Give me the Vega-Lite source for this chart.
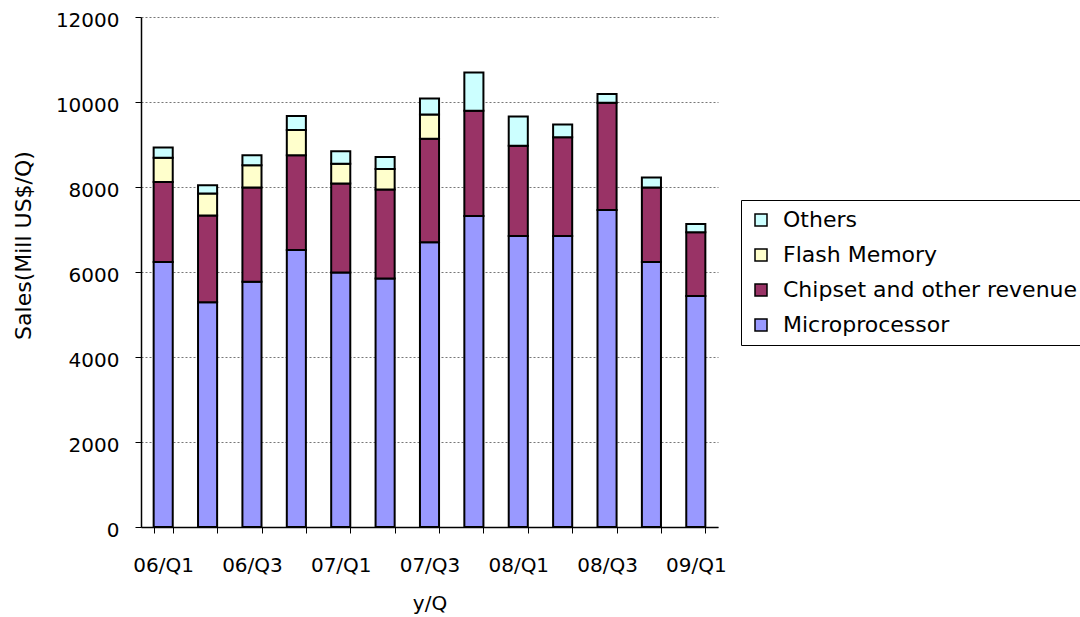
{
  "$schema": "https://vega.github.io/schema/vega-lite/v6.json",
  "width": 577,
  "height": 510,
  "autosize": {"type": "none"},
  "padding": {"left": 141, "top": 17, "right": 362, "bottom": 90},
  "background": "white",
  "config": {
    "font": "DejaVu Sans",
    "view": {"stroke": null},
    "axis": {"labelFont": "DejaVu Sans", "titleFont": "DejaVu Sans", "labelColor": "black", "titleColor": "black", "titleFontWeight": "normal"}
  },
  "data": {
    "values": [
      {"q": "06/Q1", "segment": "Microprocessor", "value": 6235, "o": 1},
      {"q": "06/Q1", "segment": "Chipset and other revenue", "value": 1883, "o": 2},
      {"q": "06/Q1", "segment": "Flash Memory", "value": 572, "o": 3},
      {"q": "06/Q1", "segment": "Others", "value": 242, "o": 4},
      {"q": "06/Q2", "segment": "Microprocessor", "value": 5290, "o": 1},
      {"q": "06/Q2", "segment": "Chipset and other revenue", "value": 2040, "o": 2},
      {"q": "06/Q2", "segment": "Flash Memory", "value": 520, "o": 3},
      {"q": "06/Q2", "segment": "Others", "value": 190, "o": 4},
      {"q": "06/Q3", "segment": "Microprocessor", "value": 5770, "o": 1},
      {"q": "06/Q3", "segment": "Chipset and other revenue", "value": 2220, "o": 2},
      {"q": "06/Q3", "segment": "Flash Memory", "value": 520, "o": 3},
      {"q": "06/Q3", "segment": "Others", "value": 235, "o": 4},
      {"q": "06/Q4", "segment": "Microprocessor", "value": 6520, "o": 1},
      {"q": "06/Q4", "segment": "Chipset and other revenue", "value": 2225, "o": 2},
      {"q": "06/Q4", "segment": "Flash Memory", "value": 595, "o": 3},
      {"q": "06/Q4", "segment": "Others", "value": 330, "o": 4},
      {"q": "07/Q1", "segment": "Microprocessor", "value": 5990, "o": 1},
      {"q": "07/Q1", "segment": "Chipset and other revenue", "value": 2090, "o": 2},
      {"q": "07/Q1", "segment": "Flash Memory", "value": 470, "o": 3},
      {"q": "07/Q1", "segment": "Others", "value": 290, "o": 4},
      {"q": "07/Q2", "segment": "Microprocessor", "value": 5845, "o": 1},
      {"q": "07/Q2", "segment": "Chipset and other revenue", "value": 2095, "o": 2},
      {"q": "07/Q2", "segment": "Flash Memory", "value": 485, "o": 3},
      {"q": "07/Q2", "segment": "Others", "value": 280, "o": 4},
      {"q": "07/Q3", "segment": "Microprocessor", "value": 6700, "o": 1},
      {"q": "07/Q3", "segment": "Chipset and other revenue", "value": 2436, "o": 2},
      {"q": "07/Q3", "segment": "Flash Memory", "value": 572, "o": 3},
      {"q": "07/Q3", "segment": "Others", "value": 377, "o": 4},
      {"q": "07/Q4", "segment": "Microprocessor", "value": 7320, "o": 1},
      {"q": "07/Q4", "segment": "Chipset and other revenue", "value": 2475, "o": 2},
      {"q": "07/Q4", "segment": "Others", "value": 900, "o": 4},
      {"q": "08/Q1", "segment": "Microprocessor", "value": 6845, "o": 1},
      {"q": "08/Q1", "segment": "Chipset and other revenue", "value": 2125, "o": 2},
      {"q": "08/Q1", "segment": "Others", "value": 690, "o": 4},
      {"q": "08/Q2", "segment": "Microprocessor", "value": 6850, "o": 1},
      {"q": "08/Q2", "segment": "Chipset and other revenue", "value": 2320, "o": 2},
      {"q": "08/Q2", "segment": "Others", "value": 300, "o": 4},
      {"q": "08/Q3", "segment": "Microprocessor", "value": 7460, "o": 1},
      {"q": "08/Q3", "segment": "Chipset and other revenue", "value": 2525, "o": 2},
      {"q": "08/Q3", "segment": "Others", "value": 205, "o": 4},
      {"q": "08/Q4", "segment": "Microprocessor", "value": 6235, "o": 1},
      {"q": "08/Q4", "segment": "Chipset and other revenue", "value": 1755, "o": 2},
      {"q": "08/Q4", "segment": "Others", "value": 235, "o": 4},
      {"q": "09/Q1", "segment": "Microprocessor", "value": 5435, "o": 1},
      {"q": "09/Q1", "segment": "Chipset and other revenue", "value": 1500, "o": 2},
      {"q": "09/Q1", "segment": "Others", "value": 195, "o": 4}
    ]
  },
  "mark": {"type": "bar", "stroke": "black", "strokeWidth": 2},
  "encoding": {
    "x": {
      "field": "q",
      "type": "nominal",
      "sort": null,
      "scale": {"paddingInner": 0.57, "paddingOuter": 0.285},
      "axis": {
        "title": "y/Q",
        "titleFontSize": 20,
        "titleY": 76,
        "titleBaseline": "middle",
        "labelAngle": 0,
        "labelFontSize": 20,
        "labelPadding": 22,
        "labelExpr": "isString(datum.value) && (indexof(datum.value, 'Q1') >= 0 || indexof(datum.value, 'Q3') >= 0) ? datum.value : ''",
        "tickBand": "extent",
        "tickSize": 6,
        "tickColor": "black",
        "domainColor": "black",
        "domainWidth": 1.5,
        "grid": false
      }
    },
    "y": {
      "field": "value",
      "type": "quantitative",
      "stack": "zero",
      "scale": {"domain": [0, 12000]},
      "axis": {
        "title": "Sales(Mill US$/Q)",
        "titleFontSize": 22,
        "titleAngle": -90,
        "titleX": -118,
        "titleY": 228,
        "titleAlign": "center",
        "titleBaseline": "middle",
        "values": [0, 2000, 4000, 6000, 8000, 10000, 12000],
        "format": "d",
        "labelFontSize": 20,
        "labelPadding": 16,
        "labelOffset": 3,
        "tickSize": 6,
        "tickColor": "black",
        "domainColor": "black",
        "domainWidth": 1.5,
        "grid": true,
        "gridColor": "#777777",
        "gridDash": [2, 2],
        "gridWidth": 1
      }
    },
    "color": {
      "field": "segment",
      "type": "nominal",
      "scale": {
        "domain": ["Others", "Flash Memory", "Chipset and other revenue", "Microprocessor"],
        "range": ["#CCFFFF", "#FFFFCC", "#993366", "#9999FF"]
      },
      "legend": {
        "title": null,
        "orient": "none",
        "legendX": 600,
        "legendY": 183,
        "strokeColor": "black",
        "padding": 9,
        "rowPadding": 13,
        "labelFontSize": 22,
        "labelFont": "DejaVu Sans",
        "labelColor": "black",
        "labelLimit": 400,
        "labelOffset": 11,
        "symbolType": "square",
        "symbolSize": 144,
        "symbolStrokeColor": "black",
        "symbolStrokeWidth": 1.5,
        "symbolOpacity": 1
      }
    },
    "order": {"field": "o", "type": "quantitative"}
  }
}
